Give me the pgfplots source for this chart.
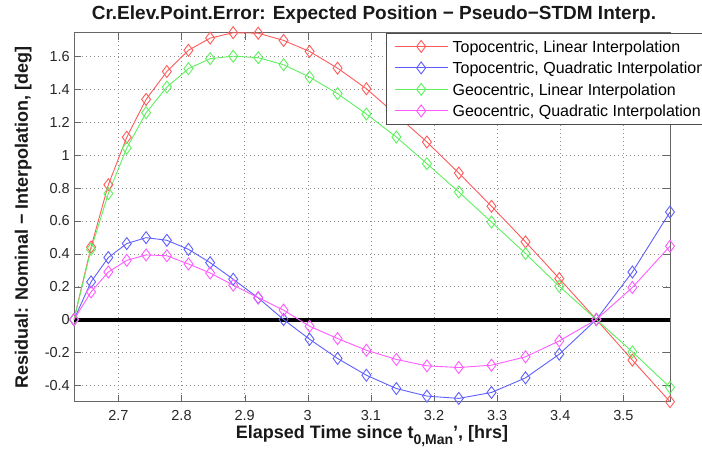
\documentclass[border=0pt]{standalone}
\usepackage{fontspec}
\setmainfont{Liberation Sans}
\usepackage{pgfplots}
\pgfplotsset{compat=1.18}
\usepackage{pgfplotstable}

\definecolor{cR}{RGB}{255,90,90}
\definecolor{cB}{RGB}{95,95,255}
\definecolor{cG}{RGB}{95,240,95}
\definecolor{cM}{RGB}{255,90,255}

% residuals [deg]: tl/tq = topocentric linear/quadratic, gl/gq = geocentric
\pgfplotstableread{
x       tl      tq      gl      gq
2.6297  0       0       0       0
2.6567  0.441   0.229   0.427   0.168
2.6841  0.820   0.377   0.766   0.289
2.7133  1.109   0.462   1.043   0.360
2.7439  1.339   0.498   1.258   0.393
2.7768  1.509   0.482   1.414   0.388
2.8110  1.638   0.427   1.526   0.338
2.8454  1.712   0.346   1.587   0.283
2.8819  1.745   0.245   1.602   0.209
2.9216  1.742   0.131   1.593   0.133
2.9617  1.698   0.000   1.550   0.057
3.0029  1.631  -0.120   1.475  -0.041
3.0473  1.529  -0.237   1.374  -0.116
3.0929  1.404  -0.339   1.250  -0.187
3.1404  1.245  -0.420   1.110  -0.243
3.1888  1.080  -0.466   0.948  -0.282
3.2393  0.891  -0.480   0.776  -0.292
3.2911  0.689  -0.444   0.593  -0.278
3.3450  0.472  -0.355   0.401  -0.227
3.3985  0.249  -0.211   0.202  -0.130
3.4572  0       0       0       0
3.5143 -0.247   0.289  -0.197   0.195
3.5739 -0.500   0.654  -0.413   0.446
}\datatab

\begin{document}
\begin{tikzpicture}
\begin{axis}[
  scale only axis,
  width=596pt, height=369pt,
  xmin=2.6297, xmax=3.5739,
  ymin=-0.5, ymax=1.745,
  xtick={2.7,2.8,2.9,3,3.1,3.2,3.3,3.4,3.5},
  ytick={-0.4,-0.2,0,0.2,0.4,0.6,0.8,1,1.2,1.4,1.6},
  /pgf/number format/assume math mode=true,
  tick align=inside,
  major tick length=7pt,
  tick style={black!60},
  axis line style={black!60},
  grid=major,
  grid style={black!45, dash pattern=on 1pt off 3pt},
  tick label style={font=\fontsize{14.5}{16}\selectfont, text=black!85, inner sep=0pt},
  xticklabel style={anchor=north, yshift=-8.7pt},
  yticklabel style={anchor=east, xshift=-4pt},
  title={Cr.Elev.Point.Error: Expected Position − Pseudo−STDM Interp.},
  title style={font=\bfseries\fontsize{19}{19}\selectfont, text=black!90,
    at={(axis description cs:0.0297,1)}, anchor=base west, inner sep=0pt, yshift=7.2pt},
  xlabel={Elapsed Time since t\raisebox{-6pt}{\fontsize{14}{14}\selectfont 0,Man}', [hrs]},
  xlabel style={font=\bfseries\fontsize{18}{18}\selectfont, text=black!90,
    at={(axis description cs:0.5,-0.1)}, anchor=base, inner sep=0pt},
  ylabel={Residual: Nominal − Interpolation, [deg]},
  ylabel style={font=\bfseries\fontsize{18}{18}\selectfont, text=black!90,
    at={(axis description cs:-0.0772,0.5)}, anchor=base, inner sep=0pt},
  legend style={at={(axis description cs:0.5235,1)}, anchor=north west,
    draw=black!70, fill=white, font=\fontsize{16}{16}\selectfont,
    inner xsep=8pt, inner ysep=7.5pt, row sep=9.5pt,
    nodes={text height=11.5pt, text depth=0pt, inner xsep=4.5pt, inner ysep=0pt}},
  legend cell align=left,
  legend image code/.code={
    \draw[mark repeat=2, mark phase=2, #1] plot coordinates {(0pt,0pt) (26.5pt,0pt) (53pt,0pt)};},
  every axis plot/.append style={line width=0.9pt, mark=diamond, mark size=6pt,
    mark options={solid, line width=0.9pt}},
]
\addplot[black, line width=4pt, mark=none, forget plot] coordinates {(2.6297,0) (3.5739,0)};
\addplot[cR] table[x=x, y=tl] {\datatab};
\addplot[cB] table[x=x, y=tq] {\datatab};
\addplot[cG] table[x=x, y=gl] {\datatab};
\addplot[cM] table[x=x, y=gq] {\datatab};
\legend{Topocentric{,} Linear Interpolation, Topocentric{,} Quadratic Interpolation,
  Geocentric{,} Linear Interpolation, Geocentric{,} Quadratic Interpolation}
\end{axis}
\pgfresetboundingbox
\useasboundingbox (-74pt,-47.3pt) rectangle (628pt,401.7pt);
\end{tikzpicture}
\end{document}
